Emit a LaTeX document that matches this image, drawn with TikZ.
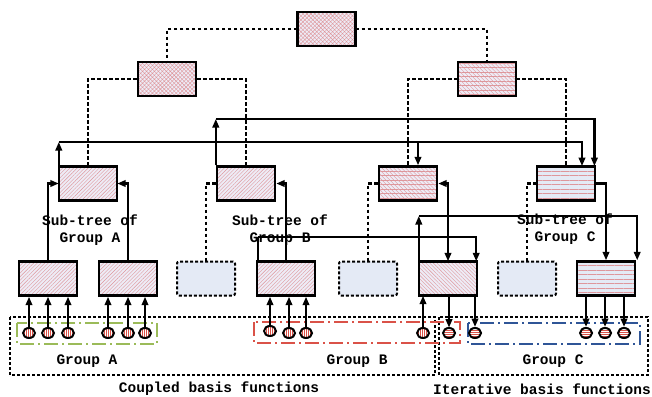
\documentclass[tikz,border=0pt]{standalone}
\usepackage{fontspec}
\setmonofont{Liberation Mono}
\usetikzlibrary{arrows.meta,patterns.meta,shapes.geometric}

\definecolor{boxfill}{RGB}{238,236,246}
\definecolor{emptyfill}{RGB}{228,234,245}
\definecolor{hatch}{RGB}{222,150,155}
\definecolor{grpgreen}{RGB}{155,187,89}
\definecolor{grpred}{RGB}{218,82,72}
\definecolor{grpblue}{RGB}{47,85,151}

\begin{document}
\begin{tikzpicture}[x=1pt,y=-1pt,>={Triangle[length=8.5pt,width=6.5pt]},
    font=\ttfamily\bfseries\fontsize{14.5}{17}\selectfont,
    tn/.style={draw,line width=2.4pt,minimum width=58,minimum height=34,
      inner sep=0pt,preaction={fill=boxfill}},
    checker/.style={tn,pattern={Hatch[angle=45,distance=2.8pt,line width=.4pt]},
      pattern color=hatch},
    mixed/.style={tn,preaction={pattern={Lines[angle=0,distance=4.5pt,line width=.35pt]},
      pattern color=hatch},pattern={Lines[angle=-45,distance=2.8pt,line width=.35pt]},
      pattern color=hatch},
    diag/.style={tn,pattern={Lines[angle=45,distance=2.6pt,line width=.4pt]},
      pattern color=hatch},
    rdiag/.style={tn,pattern={Lines[angle=-45,distance=2.6pt,line width=.4pt]},
      pattern color=hatch},
    horiz/.style={tn,preaction={fill=emptyfill},
      pattern={Lines[angle=0,distance=4.5pt,line width=.8pt]},pattern color=hatch},
    emptynode/.style={draw,line width=2pt,dash pattern=on 3pt off 2pt,
      rounded corners=2pt,fill=emptyfill,minimum width=58,minimum height=34},
    bf/.style={ellipse,draw,line width=2pt,minimum width=12,minimum height=10,
      inner sep=0pt,preaction={fill=white}},
    vbf/.style={bf,pattern={Lines[angle=90,distance=2pt,line width=.7pt]},
      pattern color=grpred},
    hbf/.style={bf,pattern={Lines[angle=0,distance=2pt,line width=.7pt]},
      pattern color=grpred},
    dline/.style={line width=2.2pt,dash pattern=on 3.5pt off 2.5pt},
    conn/.style={line width=2.4pt},
    grp/.style={line width=1.8pt,dash pattern=on 14pt off 4pt on 2pt off 4pt},
    frame/.style={line width=1.8pt,dash pattern=on 3pt off 2pt}]
  \useasboundingbox (0,0) rectangle (652,396);

  % Tree nodes.
  \node[checker] (top) at (326.5,29) {};
  \node[checker] (la) at (167,79) {};
  \node[mixed] (lb) at (487,79) {};
  \node[diag] (subA) at (88,183.5) {};
  \node[diag] (subB) at (246,183.5) {};
  \node[mixed] (subC) at (408,183.5) {};
  \node[horiz] (subD) at (566,183.5) {};
  \node[diag] (a1) at (48,278.5) {};
  \node[diag] (a2) at (128,278.5) {};
  \node[emptynode] (e1) at (206,278.5) {};
  \node[diag] (b1) at (286,278.5) {};
  \node[emptynode] (e2) at (368,278.5) {};
  \node[rdiag] (c1) at (448,278.5) {};
  \node[emptynode] (e3) at (527,278.5) {};
  \node[horiz] (d1) at (606,278.5) {};

  % Labels.
  \node[align=center] (labA) at (90,230.5) {Sub-tree of\\Group A};
  \node[align=center] (labB) at (280,230.5) {Sub-tree of\\Group B};
  \node[align=center] (labC) at (565,229.5) {Sub-tree of\\Group C};
  \node (gA) at (87,361) {Group A};
  \node (gB) at (357,361) {Group B};
  \node (gC) at (553,361) {Group C};
  \node (coupled) at (219,389) {Coupled basis functions};
  \node (iter) at (542,389) {Iterative basis functions};

  % Frames round the basis functions.
  \draw[frame] (10,317) rectangle (435,375);
  \draw[frame] (439,317) rectangle (648,375);
  \draw[grp,grpgreen] (17,323) rectangle (157,344);
  \draw[grp,grpred] (254,322) rectangle (460,343);
  \draw[grp,grpblue] (468,323) rectangle (640,344);

  % Dashed tree links.
  \draw[dline] (top.west) -| (la.north);
  \draw[dline] (top.east) -| (lb.north);
  \draw[dline] (la.west) -| (subA.north);
  \draw[dline] (la.east) -| (subB.north);
  \draw[dline] (lb.west) -| (subC.north);
  \draw[dline] (lb.east) -| (subD.north);
  \draw[dline] (subB.west) -| (e1.north);
  \draw[dline] (subC.west) -| (e2.north);
  \draw[dline] (subD.west) -| (e3.north);

  % Solid links.
  \draw[->,conn] (a1.north) |- (subA.west);
  \draw[->,conn] (a2.north) |- (subA.east);
  \draw[->,conn] (b1.north) |- (subB.east);
  \draw[<->,conn] (subC.east) -| (c1.north);
  \draw[->,conn] (subD.east) -| (d1.north);

  \coordinate (busA) at (subA.north west |- 0,142);
  \draw[->,conn] (subA.north west) -- (busA);
  \draw[->,conn] (busA) -| ([xshift=10]subC.north);
  \draw[->,conn] (busA) -| ([xshift=16]subD.north);
  \coordinate (busB) at (subB.north west |- 0,119);
  \draw[->,conn] (subB.north west) -- (busB);
  \draw[->,conn] (busB) -| ([xshift=-1]subD.north east);
  \coordinate (busb) at ([xshift=2]b1.north west |- 0,237);
  \draw[conn] ([xshift=2]b1.north west) -- (busb);
  \draw[->,conn] (busb) -| ([xshift=-1]c1.north east);
  \coordinate (busc) at (c1.north west |- 0,216);
  \draw[->,conn] (c1.north west) -- (busc);
  \draw[->,conn] (busc) -| ([xshift=1]d1.north east);

  % Basis functions.
  \node[vbf] (fa1) at (29,333) {};
  \node[vbf] (fa2) at (48,333) {};
  \node[vbf] (fa3) at (68,333) {};
  \node[vbf] (fa4) at (108,333) {};
  \node[vbf] (fa5) at (128,333) {};
  \node[vbf] (fa6) at (145,333) {};
  \node[vbf] (fb1) at (270,331) {};
  \node[vbf] (fb2) at (289,333) {};
  \node[vbf] (fb3) at (306,333) {};
  \node[vbf] (fb4) at (423,333) {};
  \node[hbf] (fc1) at (449,333) {};
  \node[hbf] (fc2) at (475,333) {};
  \node[hbf] (fc3) at (586,333) {};
  \node[hbf] (fc4) at (605,333) {};
  \node[hbf] (fc5) at (624,333) {};
  \draw[->,conn] (fa1) -- (fa1 |- a1.south);
  \draw[->,conn] (fa2) -- (fa2 |- a1.south);
  \draw[->,conn] (fa3) -- (fa3 |- a1.south);
  \draw[->,conn] (fa4) -- (fa4 |- a2.south);
  \draw[->,conn] (fa5) -- (fa5 |- a2.south);
  \draw[->,conn] (fa6) -- (fa6 |- a2.south);
  \draw[->,conn] (fb1) -- (fb1 |- b1.south);
  \draw[->,conn] (fb2) -- (fb2 |- b1.south);
  \draw[->,conn] (fb3) -- (fb3 |- b1.south);
  \draw[->,conn] (fb4) -- (fb4 |- c1.south);
  \draw[->,conn] (fc1 |- c1.south) -- (fc1);
  \draw[->,conn] (fc2 |- c1.south) -- (fc2);
  \draw[->,conn] (fc3 |- d1.south) -- (fc3);
  \draw[->,conn] (fc4 |- d1.south) -- (fc4);
  \draw[->,conn] (fc5 |- d1.south) -- (fc5);
\end{tikzpicture}
\end{document}
